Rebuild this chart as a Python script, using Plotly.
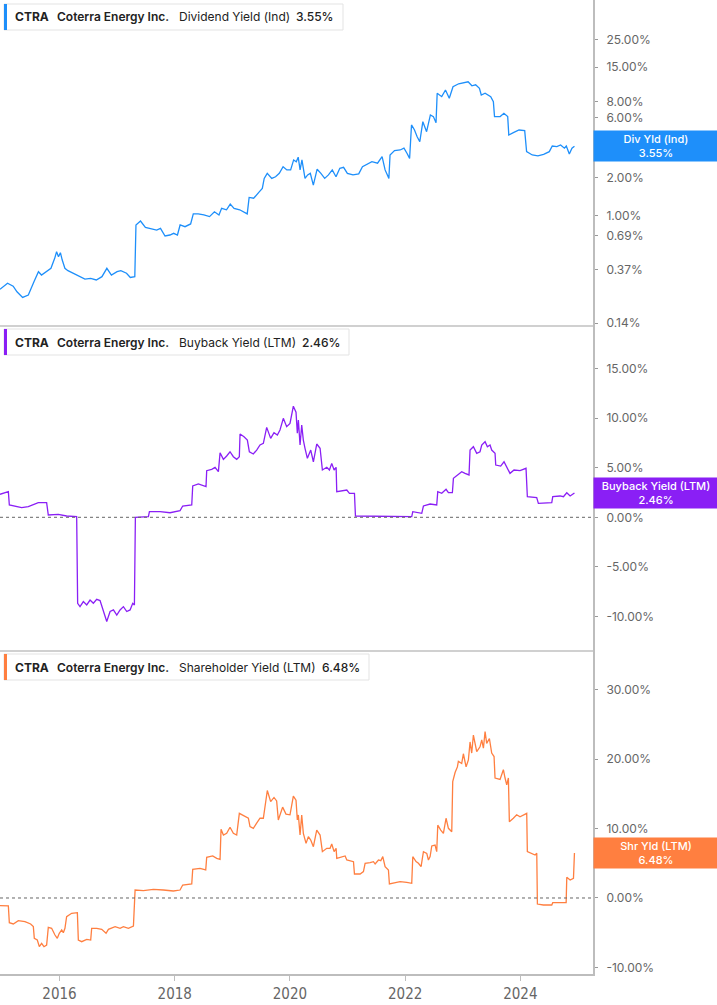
import plotly.graph_objects as go
from plotly.subplots import make_subplots
from datetime import datetime
import math

# ---------------- data (decimal years, percent values) ----------------
div_t = [2014.967, 2015.098, 2015.196, 2015.262, 2015.360, 2015.459, 2015.557, 2015.635, 2015.688, 2015.786,
         2015.852, 2015.917, 2015.950, 2015.983, 2016.016, 2016.048, 2016.094, 2016.147, 2016.245, 2016.343,
         2016.441, 2016.540, 2016.638, 2016.736, 2016.821, 2016.900, 2016.998, 2017.064, 2017.162, 2017.228,
         2017.306, 2017.326, 2017.405, 2017.490, 2017.588, 2017.686, 2017.752, 2017.831, 2017.916, 2017.981,
         2018.047, 2018.093, 2018.178, 2018.276, 2018.322, 2018.407, 2018.506, 2018.604, 2018.689, 2018.768,
         2018.814, 2018.899, 2018.964, 2019.030, 2019.128, 2019.194, 2019.259, 2019.292, 2019.371, 2019.456,
         2019.521, 2019.554, 2019.607, 2019.685, 2019.751, 2019.816, 2019.882, 2019.947, 2020.013, 2020.065,
         2020.111, 2020.144, 2020.177, 2020.209, 2020.262, 2020.308, 2020.354, 2020.406, 2020.472, 2020.537,
         2020.603, 2020.668, 2020.734, 2020.799, 2020.865, 2020.930, 2020.996, 2021.094, 2021.193, 2021.258,
         2021.324, 2021.422, 2021.520, 2021.599, 2021.651, 2021.717, 2021.737, 2021.815, 2021.913, 2021.979,
         2022.031, 2022.077, 2022.110, 2022.162, 2022.208, 2022.254, 2022.307, 2022.372, 2022.438, 2022.490,
         2022.536, 2022.556, 2022.635, 2022.700, 2022.766, 2022.831, 2022.929, 2022.995, 2023.093, 2023.159,
         2023.224, 2023.290, 2023.322, 2023.388, 2023.486, 2023.532, 2023.552, 2023.650, 2023.715, 2023.781,
         2023.800, 2023.879, 2023.977, 2024.076, 2024.109, 2024.207, 2024.305, 2024.404, 2024.502, 2024.554,
         2024.633, 2024.698, 2024.764, 2024.797, 2024.849, 2024.895, 2024.938]
div_v = [0.26, 0.29, 0.275, 0.248, 0.224, 0.234, 0.298, 0.358, 0.337, 0.365,
         0.381, 0.457, 0.516, 0.471, 0.507, 0.443, 0.381, 0.365, 0.348, 0.331,
         0.313, 0.317, 0.308, 0.327, 0.381, 0.337, 0.358, 0.365, 0.348, 0.322,
         0.327, 0.841, 0.904, 0.805, 0.791, 0.767, 0.791, 0.688, 0.700, 0.722,
         0.700, 0.841, 0.815, 0.857, 1.03, 1.03, 1.01, 0.98, 1.07, 1.01,
         1.14, 1.11, 1.23, 1.14, 1.11, 1.07, 1.03, 1.39, 1.37, 1.52,
         1.64, 1.97, 2.16, 1.97, 2.03, 2.16, 2.44, 2.30, 2.30, 2.76,
         2.67, 2.90, 2.30, 2.76, 1.97, 2.10, 2.16, 1.74, 2.33, 2.16,
         1.97, 2.10, 2.30, 2.03, 2.37, 2.41, 2.16, 2.10, 2.14, 2.44,
         2.52, 2.67, 2.60, 2.93, 2.30, 1.97, 3.02, 3.27, 3.31, 3.42,
         3.12, 2.84, 5.23, 4.77, 4.22, 3.85, 5.55, 4.62, 6.28, 6.09,
         5.45, 9.33, 8.77, 9.91, 8.51, 10.5, 11.1, 11.2, 11.5, 10.7,
         10.9, 10.2, 9.04, 9.33, 8.77, 8.0, 6.09, 6.09, 6.47, 6.09,
         4.35, 4.54, 4.77, 4.71, 3.21, 3.02, 2.97, 3.06, 3.21, 3.56,
         3.52, 3.63, 3.42, 3.56, 3.08, 3.42, 3.55]

bb_t = [2014.967, 2015.054, 2015.112, 2015.129, 2015.227, 2015.343, 2015.459, 2015.546, 2015.632, 2015.777,
        2015.806, 2015.980, 2016.124, 2016.298, 2016.315, 2016.356, 2016.414, 2016.472, 2016.530, 2016.587,
        2016.645, 2016.703, 2016.761, 2016.819, 2016.877, 2016.935, 2016.993, 2017.050, 2017.108, 2017.166,
        2017.224, 2017.270, 2017.299, 2017.316, 2017.542, 2017.560, 2017.745, 2017.918, 2018.092, 2018.138,
        2018.295, 2018.312, 2018.410, 2018.543, 2018.555, 2018.642, 2018.700, 2018.758, 2018.787, 2018.845,
        2018.902, 2018.960, 2019.018, 2019.076, 2019.122, 2019.134, 2019.203, 2019.261, 2019.296, 2019.365,
        2019.423, 2019.481, 2019.539, 2019.597, 2019.666, 2019.724, 2019.782, 2019.828, 2019.886, 2019.944,
        2020.002, 2020.060, 2020.106, 2020.129, 2020.147, 2020.176, 2020.205, 2020.233, 2020.262, 2020.303,
        2020.361, 2020.407, 2020.465, 2020.523, 2020.563, 2020.639, 2020.685, 2020.725, 2020.766, 2020.801,
        2020.812, 2020.899, 2020.986, 2021.032, 2021.119, 2021.136, 2021.391, 2021.680, 2021.738, 2022.114,
        2022.132, 2022.288, 2022.317, 2022.433, 2022.548, 2022.566, 2022.635, 2022.710, 2022.751, 2022.820,
        2022.838, 2022.907, 2022.982, 2023.040, 2023.109, 2023.127, 2023.185, 2023.243, 2023.300, 2023.330,
        2023.388, 2023.428, 2023.474, 2023.503, 2023.561, 2023.573, 2023.659, 2023.717, 2023.775, 2023.821,
        2023.891, 2023.995, 2024.099, 2024.122, 2024.284, 2024.313, 2024.545, 2024.562, 2024.690, 2024.747,
        2024.805, 2024.863, 2024.938]
bb_v = [2.32, 2.48, 2.58, 1.24, 1.14, 0.97, 1.07, 1.24, 1.47, 1.47,
        0.23, 0.30, 0.13, 0.06, -8.67, -9.01, -8.5, -8.84, -8.34, -8.67,
        -8.27, -8.4, -9.34, -10.5, -9.5, -9.34, -9.85, -9.34, -9.01, -9.5,
        -9.34, -8.67, -8.84, 0.0, 0.06, 0.57, 0.57, 0.46, 0.67, 1.14,
        1.24, 3.16, 3.36, 3.09, 4.70, 4.84, 5.03, 4.60, 6.51, 5.84,
        6.18, 6.61, 6.11, 5.84, 6.11, 8.40, 8.13, 7.79, 6.61, 6.38,
        6.78, 7.29, 7.46, 9.07, 7.96, 8.53, 8.30, 8.80, 9.98, 9.14,
        9.47, 11.2, 10.6, 8.47, 9.81, 7.29, 9.3, 7.79, 6.96, 5.95,
        6.78, 5.6, 7.39, 6.96, 4.77, 5.04, 4.77, 5.44, 4.77, 5.04,
        2.58, 2.68, 2.75, 2.42, 2.42, 0.13, 0.13, 0.13, 0.06, 0.06,
        0.57, 0.40, 1.14, 1.34, 1.24, 2.58, 2.42, 2.82, 2.48, 2.48,
        3.93, 4.27, 4.60, 4.43, 4.27, 6.78, 7.12, 6.45, 6.61, 7.29,
        7.62, 7.12, 7.29, 6.78, 6.45, 5.27, 5.17, 5.6, 4.94, 4.43,
        4.77, 4.70, 4.94, 2.08, 1.98, 1.41, 1.47, 2.08, 2.15, 2.08,
        2.48, 2.15, 2.46]

sh_t = [2014.967, 2015.112, 2015.129, 2015.198, 2015.285, 2015.401, 2015.499, 2015.546, 2015.563, 2015.615,
        2015.650, 2015.690, 2015.731, 2015.777, 2015.806, 2015.864, 2015.922, 2015.962, 2015.997, 2016.038,
        2016.067, 2016.095, 2016.124, 2016.211, 2016.310, 2016.327, 2016.385, 2016.472, 2016.541, 2016.558,
        2016.645, 2016.732, 2016.807, 2016.848, 2016.964, 2017.050, 2017.108, 2017.195, 2017.282, 2017.311,
        2017.455, 2017.629, 2017.803, 2017.976, 2018.092, 2018.138, 2018.295, 2018.312, 2018.439, 2018.538,
        2018.555, 2018.659, 2018.729, 2018.787, 2018.804, 2018.845, 2018.902, 2018.960, 2019.018, 2019.076,
        2019.122, 2019.221, 2019.279, 2019.307, 2019.365, 2019.423, 2019.481, 2019.539, 2019.585, 2019.608,
        2019.666, 2019.724, 2019.770, 2019.799, 2019.874, 2019.932, 2020.002, 2020.060, 2020.106, 2020.129,
        2020.147, 2020.176, 2020.205, 2020.233, 2020.280, 2020.320, 2020.361, 2020.407, 2020.465, 2020.523,
        2020.563, 2020.639, 2020.696, 2020.725, 2020.766, 2020.801, 2020.812, 2020.899, 2020.957, 2020.986,
        2021.102, 2021.119, 2021.217, 2021.275, 2021.304, 2021.391, 2021.449, 2021.478, 2021.536, 2021.576,
        2021.611, 2021.651, 2021.709, 2021.726, 2021.825, 2021.912, 2022.027, 2022.114, 2022.132, 2022.189,
        2022.230, 2022.276, 2022.317, 2022.375, 2022.404, 2022.433, 2022.462, 2022.519, 2022.548, 2022.566,
        2022.618, 2022.664, 2022.710, 2022.751, 2022.809, 2022.826, 2022.867, 2022.907, 2022.924, 2022.982,
        2023.011, 2023.058, 2023.098, 2023.127, 2023.156, 2023.185, 2023.243, 2023.300, 2023.330, 2023.359,
        2023.388, 2023.416, 2023.463, 2023.503, 2023.544, 2023.561, 2023.648, 2023.706, 2023.735, 2023.764,
        2023.793, 2023.810, 2023.879, 2023.937, 2023.995, 2024.053, 2024.111, 2024.122, 2024.198, 2024.256,
        2024.285, 2024.296, 2024.400, 2024.545, 2024.562, 2024.794, 2024.805, 2024.863, 2024.921, 2024.938]
sh_v = [-1.11, -1.13, -3.56, -3.74, -3.27, -3.41, -3.74, -4.13, -5.81, -6.06,
        -7.02, -6.54, -7.02, -6.78, -4.23, -4.37, -5.34, -5.81, -5.09, -4.61,
        -5.0, -4.37, -2.69, -2.21, -2.12, -6.06, -6.30, -5.96, -6.06, -4.37,
        -4.37, -4.52, -5.09, -4.52, -4.13, -4.37, -4.13, -4.37, -4.04, 1.15,
        1.06, 1.25, 1.15, 1.01, 1.15, 1.87, 2.02, 4.13, 4.28, 4.04,
        5.87, 6.06, 5.72, 5.58, 9.90, 9.08, 9.32, 10.2, 9.32, 9.08,
        12.2, 11.7, 11.5, 10.3, 10.05, 10.8, 11.5, 11.5, 14.4, 15.5,
        13.9, 14.5, 14.0, 11.25, 13.1, 12.1, 12.0, 14.7, 14.1, 11.25,
        11.97, 9.08, 11.97, 9.32, 7.88, 8.85, 8.36, 7.40, 9.80, 9.08,
        6.68, 7.16, 7.16, 7.79, 6.68, 7.16, 5.72, 5.96, 6.06, 5.48,
        5.24, 3.46, 3.46, 3.80, 5.0, 5.09, 5.24, 4.90, 5.48, 5.38,
        5.96, 4.52, 4.04, 2.02, 2.21, 2.35, 2.26, 2.12, 5.96, 5.24,
        5.0, 4.52, 6.68, 6.44, 5.48, 5.96, 7.50, 7.64, 6.68, 10.5,
        9.80, 9.32, 11.5, 10.05, 9.56, 16.8, 18.1, 18.9, 19.7, 19.4,
        20.8, 18.9, 19.9, 22.5, 20.9, 23.5, 21.1, 21.8, 22.8, 21.6,
        24.0, 22.3, 23.0, 20.9, 20.4, 17.3, 17.1, 18.5, 17.3, 16.3,
        17.3, 11.0, 11.5, 12.0, 11.7, 12.0, 12.2, 6.68, 6.44, 6.20,
        6.44, -0.87, -1.01, -1.01, -0.67, -0.67, 2.98, 2.60, 2.84, 6.48]

div_ticks = [25, 15, 8, 6, 3, 2, 1, 0.69, 0.37, 0.14]
bb_ticks = [15, 10, 5, 0, -5, -10]
sh_ticks = [30, 20, 10, 0, -10]
x_ticks = [2016, 2018, 2020, 2022, 2024]
x_range = [2014.967, 2025.26]

ticker = "CTRA"
company = "Coterra Energy Inc."
series_names = ["Dividend Yield (Ind)", "Buyback Yield (LTM)", "Shareholder Yield (LTM)"]
short_names = ["Div Yld (Ind)", "Buyback Yield (LTM)", "Shr Yld (LTM)"]
colors = ["#1e8ffa", "#8a1ff5", "#ff7f40"]


def to_date(t):
    y = int(t)
    a = datetime(y, 1, 1)
    b = datetime(y + 1, 1, 1)
    return a + (b - a) * (t - y)


def pct(v):
    return f"{v:.2f}%"


W, H = 717, 1005
ML, MR, MT, MB = 0, 124, 0, 31
PW = W - ML - MR
PH = H - MT - MB
row_px = [325, 325, 324]

fig = make_subplots(rows=3, cols=1, shared_xaxes=True, vertical_spacing=0,
                    row_heights=row_px)

series = [(div_t, div_v), (bb_t, bb_v), (sh_t, sh_v)]
for i, (t, v) in enumerate(series):
    fig.add_trace(go.Scatter(x=[to_date(a) for a in t], y=v, mode="lines",
                             line=dict(color=colors[i], width=1.3),
                             hoverinfo="skip", showlegend=False),
                  row=i + 1, col=1)

tickfont = dict(family="Inter, Roboto, sans-serif", size=12, color="#666")
common_y = dict(side="right", showgrid=False, zeroline=False, showline=True,
                linecolor="#bdbdbd", linewidth=2, ticks="outside", ticklen=3,
                tickcolor="#999", tickfont=tickfont, ticklabelstandoff=6)

fig.update_yaxes(type="log", range=[-0.869, 1.710], tickvals=div_ticks,
                 ticktext=[pct(v) for v in div_ticks], row=1, col=1, **common_y)
fig.update_yaxes(range=[-13.38, 19.39], tickvals=bb_ticks,
                 ticktext=[pct(v) for v in bb_ticks], row=2, col=1, **common_y)
fig.update_yaxes(range=[-10.96, 35.76], tickvals=sh_ticks,
                 ticktext=[pct(v) for v in sh_ticks], row=3, col=1, **common_y)

xr = [to_date(x_range[0]), to_date(x_range[1])]
for r in (1, 2):
    fig.update_xaxes(range=xr, showgrid=False, showline=True, linecolor="#d0d0d0",
                     linewidth=1.5, ticks="", showticklabels=False, row=r, col=1)
fig.update_xaxes(range=xr, showgrid=False, showline=True, linecolor="#bdbdbd",
                 linewidth=2, ticks="outside", ticklen=5, tickcolor="#bdbdbd",
                 tickvals=[to_date(y) for y in x_ticks],
                 ticktext=[str(y) for y in x_ticks],
                 tickfont=dict(family="Liberation Sans Narrow, DejaVu Sans Condensed, Roboto Condensed, sans-serif",
                               size=15, color="#666"),
                 row=3, col=1)

# dotted zero lines
for r in (2, 3):
    fig.add_shape(type="line", xref=f"x{r} domain", yref=f"y{r}", x0=0, x1=1, y0=0, y1=0,
                  line=dict(color="#666", width=1, dash="dot"))

# header boxes
box_right = [343, 349, 369]
tpos = [[13, 55, 177, 294], [13, 55, 177, 300], [13, 55, 177, 320]]
last_vals = [div_v[-1], bb_v[-1], sh_v[-1]]
for i in range(3):
    yd = f"y{'' if i == 0 else i + 1} domain"
    hpx = row_px[i]
    top, bot = 1 - 4 / hpx, 1 - 30 / hpx
    fig.add_shape(type="rect", xref="paper", yref=yd, x0=4 / PW, x1=box_right[i] / PW,
                  y0=bot, y1=top, fillcolor="white", line=dict(color="#e3e3e3", width=1), layer="above")
    fig.add_shape(type="rect", xref="paper", yref=yd, x0=4 / PW, x1=7 / PW,
                  y0=bot, y1=top, fillcolor=colors[i], line=dict(width=0), layer="above")
    texts = [(f"<b>{ticker}</b>", 700), (company, 600), (series_names[i], 400), (pct(last_vals[i]), 500)]
    for (txt, wt), xp in zip(texts, tpos[i]):
        fig.add_annotation(xref="paper", yref=yd, x=xp / PW, y=1 - 17 / hpx, text=txt,
                           showarrow=False, xanchor="left", yanchor="middle",
                           font=dict(family="Inter, Roboto, sans-serif", size=12, color="#222", weight=wt))

    # right-side value label
    yref = "y" if i == 0 else f"y{i + 1}"
    yv = math.log10(last_vals[i]) if i == 0 else last_vals[i]
    fig.add_annotation(xref="paper", yref=yref, x=1, y=yv, xanchor="left", yanchor="middle",
                       text=f"{short_names[i]}<br>{pct(last_vals[i])}", showarrow=False,
                       bgcolor=colors[i], width=122, height=28, borderpad=1, align="center",
                       font=dict(family="Inter, Roboto, sans-serif", size=11, color="white", weight=500))

fig.update_layout(width=W, height=H, margin=dict(l=ML, r=MR, t=MT, b=MB),
                  paper_bgcolor="white", plot_bgcolor="white",
                  font=dict(family="Inter, Roboto, sans-serif"))

fig.write_html("out.html", config={"displayModeBar": False},
               post_script="document.body.style.margin='0';document.body.style.overflow='hidden';")
